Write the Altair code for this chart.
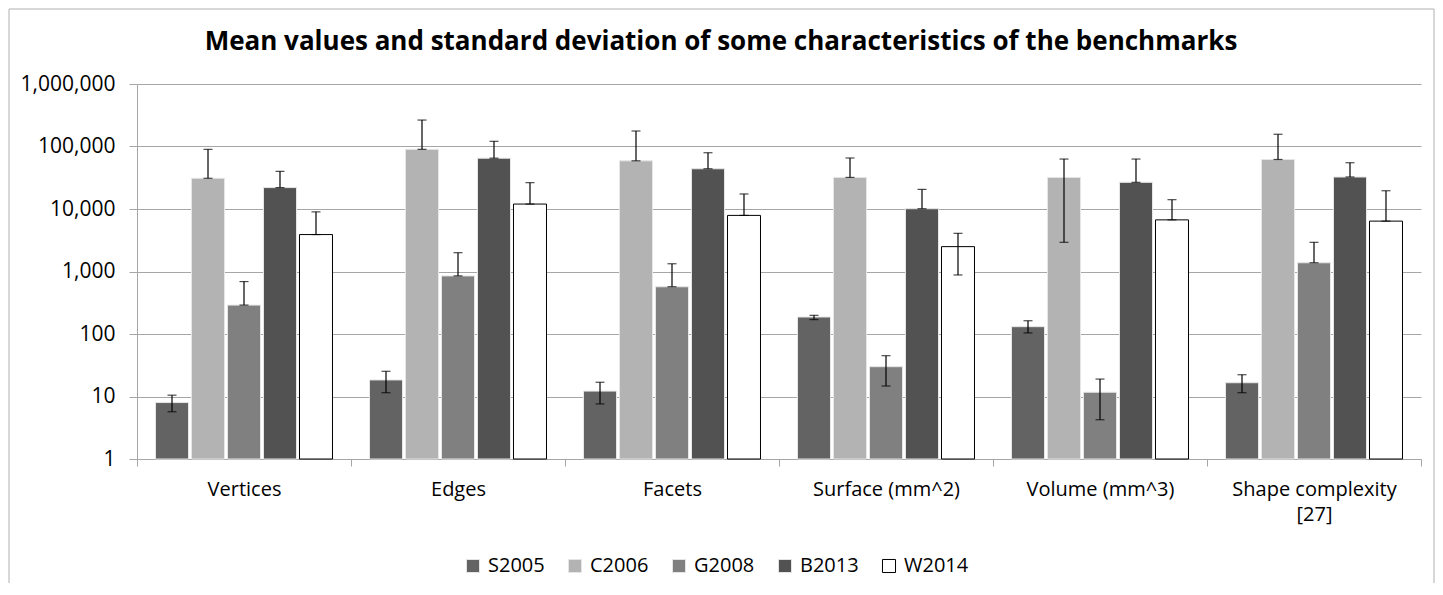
import altair as alt
import pandas as pd

categories = ["Vertices", "Edges", "Facets", "Surface (mm^2)", "Volume (mm^3)", "Shape complexity [27]"]
series = ["S2005", "C2006", "G2008", "B2013", "W2014"]
colors = ["#636363", "#b3b3b3", "#808080", "#525252", "#ffffff"]
outlines = ["#e6e6e6", "#e6e6e6", "#e6e6e6", "#e6e6e6", "#000000"]
title_text = "Mean values and standard deviation of some characteristics of the benchmarks"

# mean values per series (one per category)
mean_S2005 = [8, 18.4, 12.2, 187, 131, 16.6]
mean_C2006 = [31000, 90000, 59000, 32000, 32000, 62000]
mean_G2008 = [290, 850, 570, 30, 11.7, 1380]
mean_B2013 = [22000, 65000, 44000, 10100, 26700, 32500]
mean_W2014 = [3900, 12000, 7900, 2500, 6700, 6400]

# upper end of error bar (mean + sd)
hi_S2005 = [10.5, 25.3, 16.9, 199, 163, 22.3]
hi_C2006 = [90000, 265000, 177000, 65500, 63000, 157000]
hi_G2008 = [690, 2000, 1330, 45, 19, 2930]
hi_B2013 = [40000, 121000, 79500, 20600, 63000, 55000]
hi_W2014 = [9000, 26400, 17400, 4080, 14100, 19600]

# lower end of error bar as drawn (mean - sd, or mean when not shown)
lo_S2005 = [5.7, 11.5, 7.6, 170, 104, 11.5]
lo_C2006 = [31000, 90000, 59000, 32000, 2930, 62000]
lo_G2008 = [290, 850, 570, 14.7, 4.25, 1380]
lo_B2013 = [22000, 65000, 44000, 10100, 26700, 32500]
lo_W2014 = [3900, 12000, 7900, 880, 6700, 6400]

means = [mean_S2005, mean_C2006, mean_G2008, mean_B2013, mean_W2014]
his = [hi_S2005, hi_C2006, hi_G2008, hi_B2013, hi_W2014]
los = [lo_S2005, lo_C2006, lo_G2008, lo_B2013, lo_W2014]

rows = []
for s, m, h, l in zip(series, means, his, los):
    for c, mv, hv, lv in zip(categories, m, h, l):
        rows.append({"category": c, "series": s, "mean": mv, "hi": hv, "lo": lv})
df = pd.DataFrame(rows)

FONT = "Open Sans"

x_enc = alt.X("category:N", sort=categories, title=None,
              scale=alt.Scale(paddingInner=0, paddingOuter=0),
              axis=alt.Axis(labelAngle=0, tickBand="extent", tickSize=7, tickColor="#a6a6a6",
                            domainColor="#a6a6a6", labelFontSize=20, labelFont=FONT,
                            labelColor="#000000", labelPadding=13, labelLineHeight=25,
                            labelExpr="datum.value == 'Shape complexity [27]' ? ['Shape complexity', '[27]'] : datum.label"))
xo_enc = alt.XOffset("series:N", sort=series,
                     scale=alt.Scale(paddingInner=0.083, paddingOuter=0.514))
y_scale = alt.Scale(type="log", domain=[1, 1000000])

legend = alt.Legend(title=None, orient="none", legendX=326, legendY=472,
                    direction="horizontal", symbolType="square", symbolSize=170,
                    symbolStrokeWidth=1, labelFontSize=20, labelFont=FONT,
                    labelColor="#000000", columnPadding=20, labelOffset=5)

bars = alt.Chart(df).mark_bar(strokeWidth=1).encode(
    x=x_enc,
    xOffset=xo_enc,
    y=alt.Y("mean:Q", scale=y_scale, title=None,
            axis=alt.Axis(values=[1, 10, 100, 1000, 10000, 100000, 1000000], format=",",
                          tickSize=8, tickColor="#a6a6a6", domainColor="#a6a6a6",
                          gridColor="#a6a6a6", gridWidth=1.2, labelFontSize=21, labelFont=FONT,
                          labelColor="#000000", labelPadding=14)),
    y2=alt.datum(1),
    fill=alt.Fill("series:N", sort=series, scale=alt.Scale(domain=series, range=colors), legend=legend),
    stroke=alt.Stroke("series:N", sort=series, scale=alt.Scale(domain=series, range=outlines), legend=legend),
)

err = alt.Chart(df).mark_rule(color="#000000", strokeWidth=1.2).encode(
    x=alt.X("category:N", sort=categories),
    xOffset=xo_enc,
    y=alt.Y("lo:Q", scale=y_scale),
    y2="hi:Q",
)
cap_hi = alt.Chart(df).mark_tick(color="#000000", size=9, thickness=1.2).encode(
    x=alt.X("category:N", sort=categories),
    xOffset=xo_enc,
    y=alt.Y("hi:Q", scale=y_scale),
)
cap_lo = alt.Chart(df).mark_tick(color="#000000", size=9, thickness=1.2).encode(
    x=alt.X("category:N", sort=categories),
    xOffset=xo_enc,
    y=alt.Y("lo:Q", scale=y_scale),
)

frame = alt.Chart(pd.DataFrame({"k": [0]})).mark_rect(fill=None, stroke="#b0b0b0", strokeWidth=1).encode(
    x=alt.value(-128), x2=alt.value(1297), y=alt.value(-75), y2=alt.value(560)
)

title = alt.Chart(pd.DataFrame({"t": [title_text]})).mark_text(
    font=FONT, fontSize=26, fontWeight="bold", color="#000000", align="center", baseline="middle"
).encode(text="t:N", x=alt.value(584), y=alt.value(-42))

chart = alt.layer(frame, bars, err, cap_hi, cap_lo, title).properties(
    width=1284, height=375,
    autosize="none",
    padding={"left": 129, "top": 76, "right": 14, "bottom": 124},
).configure_view(stroke=None)

chart.save("out.html", embed_options={"renderer": "svg", "actions": False})
